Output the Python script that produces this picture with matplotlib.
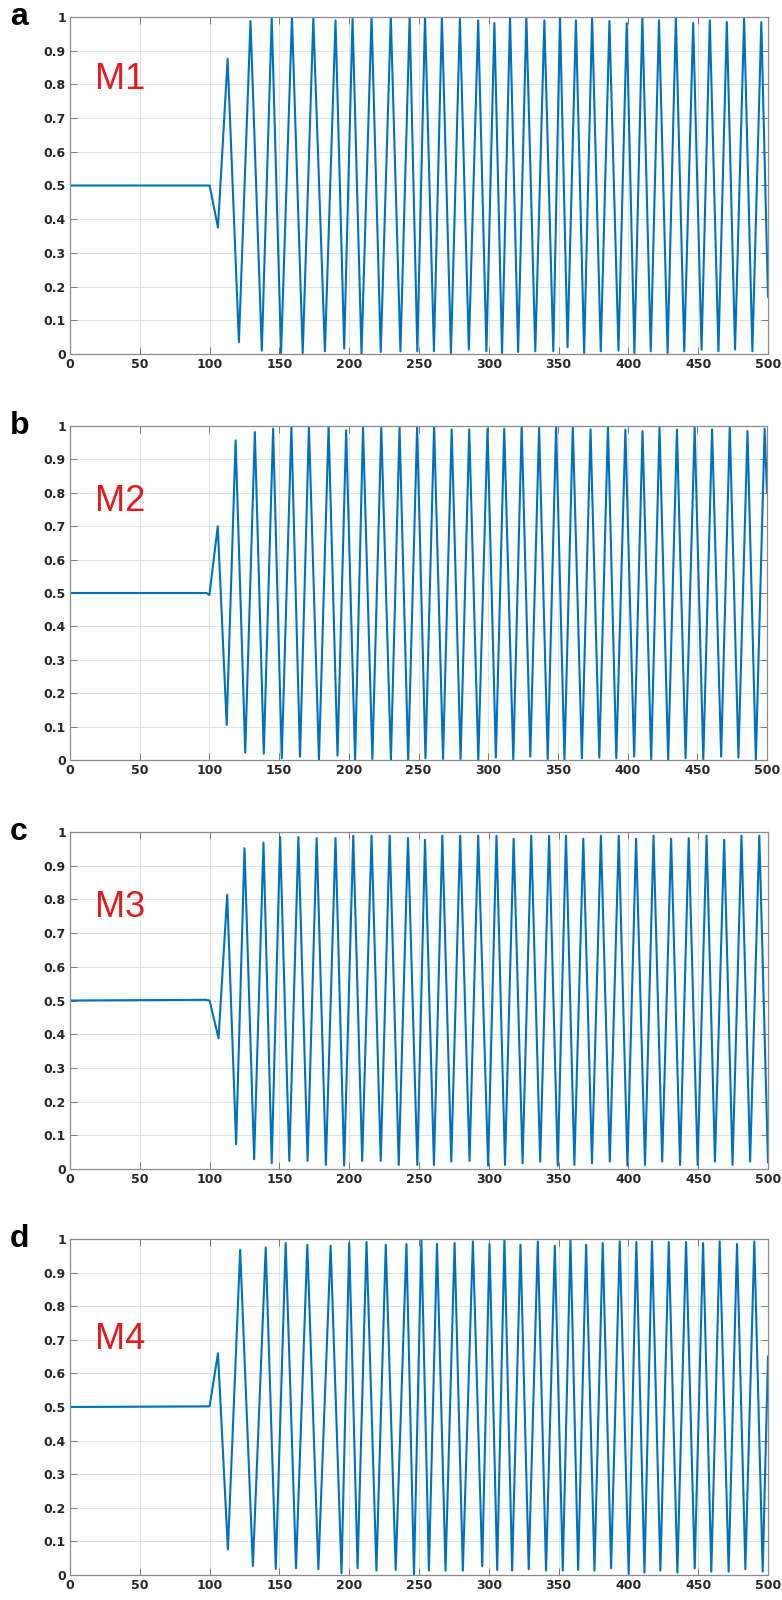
import matplotlib
matplotlib.use('Agg')
import matplotlib.pyplot as plt
import numpy as np

# ---- data (times and values of the extrema) ----
# panel a / M1
m1_flat_t   = [0, 100]
m1_flat_v   = [0.5, 0.5]
m1_peak_t   = [112.9, 129.3, 144.5, 159, 174.3, 190.2, 202.4, 216, 229.8, 243.3, 254.3,
               266.4, 279.3, 292.4, 304, 315.2, 326.9, 339.8, 351, 362.4, 374, 386.4,
               398.8, 410, 421.9, 434, 446.4, 458.3, 470.5, 482.9, 495.2]
m1_peak_v   = [0.876, 0.988, 0.998, 1.0, 0.995, 0.99, 0.995, 1.0, 1.0, 1.0, 1.0,
               1.0, 0.995, 0.99, 0.982, 1.0, 1.0, 0.99, 1.0, 0.99, 1.0, 0.988,
               0.982, 1.0, 0.99, 1.0, 0.982, 0.99, 0.985, 0.995, 0.985]
m1_trough_t = [106, 121, 137.4, 151.2, 166.7, 182.6, 196.4, 208.8, 222.6, 236.7, 248.8,
               260.7, 272.9, 285.7, 298.3, 309.5, 321, 333.3, 346.2, 356.4, 368.3, 380.2,
               392.9, 404.3, 416, 428.1, 440, 452.4, 464.5, 476.4, 488.8]
m1_trough_v = [0.375, 0.035, 0.01, 0.003, 0.003, 0.008, 0.016, 0.0, 0.006, 0.008, 0.008,
               0.008, 0.003, 0.013, 0.008, 0.003, 0.006, 0.008, 0.008, 0.02, 0.003, 0.008,
               0.01, 0.003, 0.008, 0.003, 0.008, 0.013, 0.008, 0.013, 0.008]
m1_end      = (500, 0.17)

# panel b / M2
m2_flat_t   = [0, 98, 100]
m2_flat_v   = [0.5, 0.5, 0.494]
m2_peak_t   = [106, 118.8, 132.6, 145.7, 158.8, 171.4, 185.5, 198.1, 210.2, 223.3, 236.4,
               249, 261.2, 273.8, 286.4, 299.5, 311.5, 324, 336.5, 348.7, 360.7, 373.4,
               385.9, 398.4, 410.7, 422.9, 435.4, 448.1, 460.6, 473.3, 486, 498.3]
m2_peak_v   = [0.70, 0.957, 0.982, 0.992, 0.997, 0.997, 1.0, 0.987, 0.995, 0.995, 0.995,
               0.997, 1.0, 0.99, 0.99, 0.992, 0.992, 1.0, 0.995, 1.0, 1.0, 0.99,
               1.0, 0.989, 0.985, 0.997, 0.989, 0.997, 0.99, 1.0, 0.985, 0.992]
m2_trough_t = [112.4, 125.7, 139, 151.9, 165, 178.6, 191.9, 204.5, 216.9, 230.2, 242.6,
               255, 267.6, 280.2, 292.9, 305.5, 318, 330.2, 342.7, 354.7, 367.2, 379.7,
               391.9, 404.7, 416.9, 429.1, 441.6, 454.3, 467.1, 479.5, 492]
m2_trough_v = [0.105, 0.022, 0.019, 0.005, 0.01, 0.0, 0.013, 0.0, 0.003, 0.0, 0.0,
               0.005, 0.003, 0.003, 0.0, 0.007, 0.0, 0.01, 0.003, 0.0, 0.005, 0.007,
               0.005, 0.01, 0.0, 0.0, 0.005, 0.0, 0.01, 0.007, 0.0]
m2_end      = (500, 0.80)

# panel c / M3
m3_flat_t   = [0, 97, 100]
m3_flat_v   = [0.5, 0.502, 0.5]
m3_peak_t   = [112.6, 125, 138.6, 150.5, 163.6, 176.7, 190.2, 202.9, 216, 229, 242.1,
               254.3, 266.7, 279.5, 292.4, 305.5, 317.8, 330.4, 343.2, 355.3, 367.7, 380.3,
               393.1, 405.5, 418, 430.6, 443.2, 456, 468.6, 481, 493.8]
m3_peak_v   = [0.814, 0.952, 0.969, 0.985, 0.985, 0.982, 0.982, 0.989, 0.989, 0.989, 0.982,
               0.977, 0.989, 0.989, 0.989, 0.989, 0.98, 0.989, 0.989, 0.989, 0.98, 0.989,
               0.989, 0.98, 0.989, 0.98, 0.982, 0.989, 0.977, 0.989, 0.989]
m3_trough_t = [106.4, 119, 131.9, 144.5, 157.1, 170.2, 183.3, 196.4, 209.3, 222.6, 235.5,
               248.8, 260.7, 273.1, 286.2, 299.5, 311.6, 324.2, 336.8, 349.4, 361.3, 373.9,
               386.7, 399.3, 411.9, 424.2, 437, 449.6, 462, 474.6, 487.2]
m3_trough_v = [0.388, 0.073, 0.029, 0.017, 0.024, 0.024, 0.012, 0.01, 0.024, 0.024, 0.012,
               0.012, 0.012, 0.022, 0.024, 0.01, 0.012, 0.017, 0.022, 0.01, 0.012, 0.017,
               0.022, 0.01, 0.012, 0.022, 0.012, 0.012, 0.022, 0.012, 0.022]
m3_end      = (500, 0.02)

# panel d / M4
m4_flat_t   = [0, 100]
m4_flat_v   = [0.5, 0.502]
m4_peak_t   = [106, 121.9, 140.2, 154.5, 170, 186.7, 200, 212.4, 226.2, 241, 251.7,
               262.9, 275.5, 288.6, 300.5, 311.2, 322.7, 335.1, 347.3, 358.5, 369.7, 381.6,
               393.8, 405.7, 416.9, 428.9, 441.3, 453.5, 465.4, 477.8, 490.2]
m4_peak_v   = [0.66, 0.968, 0.975, 0.988, 0.983, 0.98, 0.988, 0.991, 0.983, 0.985, 0.998,
               0.986, 0.988, 0.993, 0.985, 1.0, 0.983, 0.993, 0.98, 1.0, 0.983, 0.988,
               0.993, 0.991, 0.993, 0.991, 0.991, 0.988, 0.993, 0.985, 0.993]
m4_trough_t = [113.1, 131, 147.4, 161.9, 177.9, 194.5, 206, 219.5, 233.3, 246.4, 257.1,
               269, 281.4, 295.3, 306, 316.7, 328.6, 341, 353, 364, 375.7, 387.6,
               400.2, 411.5, 422.9, 435.1, 447.5, 459.4, 471.8, 483.8, 496.2]
m4_trough_v = [0.076, 0.027, 0.018, 0.02, 0.017, 0.005, 0.02, 0.013, 0.015, 0.0, 0.013,
               0.013, 0.013, 0.026, 0.015, 0.013, 0.017, 0.013, 0.013, 0.015, 0.013, 0.02,
               0.003, 0.007, 0.013, 0.007, 0.02, 0.01, 0.01, 0.017, 0.01]
m4_end      = (500, 0.65)

panel_letters = ['a', 'b', 'c', 'd']
model_names   = ['M1', 'M2', 'M3', 'M4']
model_label_y = [0.815, 0.775, 0.775, 0.70]
x_ticks = [0, 50, 100, 150, 200, 250, 300, 350, 400, 450, 500]
y_ticks = [0, 0.1, 0.2, 0.3, 0.4, 0.5, 0.6, 0.7, 0.8, 0.9, 1]
y_tick_labels = ['0', '0.1', '0.2', '0.3', '0.4', '0.5', '0.6', '0.7', '0.8', '0.9', '1']

series = [
    (m1_flat_t, m1_flat_v, m1_peak_t, m1_peak_v, m1_trough_t, m1_trough_v, m1_end),
    (m2_flat_t, m2_flat_v, m2_peak_t, m2_peak_v, m2_trough_t, m2_trough_v, m2_end),
    (m3_flat_t, m3_flat_v, m3_peak_t, m3_peak_v, m3_trough_t, m3_trough_v, m3_end),
    (m4_flat_t, m4_flat_v, m4_peak_t, m4_peak_v, m4_trough_t, m4_trough_v, m4_end),
]


def build_curve(flat_t, flat_v, peak_t, peak_v, trough_t, trough_v, end):
    # put the read points in time order
    t = np.concatenate([flat_t, peak_t, trough_t, [end[0]]])
    v = np.concatenate([flat_v, peak_v, trough_v, [end[1]]])
    order = np.argsort(t)
    return t[order], v[order]


W, H = 782, 1600
# axes boxes in pixels (left, top, right, bottom)
boxes = [(70, 17, 768, 354), (70, 426, 767, 760), (70, 832, 768, 1169), (70, 1239, 768, 1575)]

fig = plt.figure(figsize=(W / 100, H / 100), dpi=100)
line_color = '#0072BD'
tick_color = '#262626'

for i, (l, t_, r, b) in enumerate(boxes):
    ax = fig.add_axes([l / W, (H - b) / H, (r - l) / W, (b - t_) / H])
    t, v = build_curve(*series[i])
    ax.plot(t, v, color=line_color, lw=1.5, solid_joinstyle='round')

    ax.set_xlim(0, 500)
    ax.set_ylim(0, 1)
    ax.set_xticks(x_ticks)
    ax.set_yticks(y_ticks)
    ax.set_yticklabels(y_tick_labels)
    ax.grid(True, color='#e3e3e3', lw=0.7)
    ax.set_axisbelow(True)
    ax.tick_params(direction='in', length=5, width=0.7, color='#7a7a7a',
                   top=True, right=True, labelsize=9, labelcolor=tick_color, pad=3)
    for lab in ax.get_xticklabels() + ax.get_yticklabels():
        lab.set_fontweight('bold')
        lab.set_family('DejaVu Sans')
    for sp in ax.spines.values():
        sp.set_color('#8a8a8a')
        sp.set_linewidth(0.9)

    ax.text(18, model_label_y[i], model_names[i], color='#e41a1c', fontsize=26,
            family='Liberation Sans', va='center', ha='left')
    fig.text(10 / W, (H - t_ - 8) / H, panel_letters[i], fontsize=23, fontweight='bold',
             family='Liberation Sans', color='black', va='baseline', ha='left')

fig.savefig('out.png', dpi=100)
